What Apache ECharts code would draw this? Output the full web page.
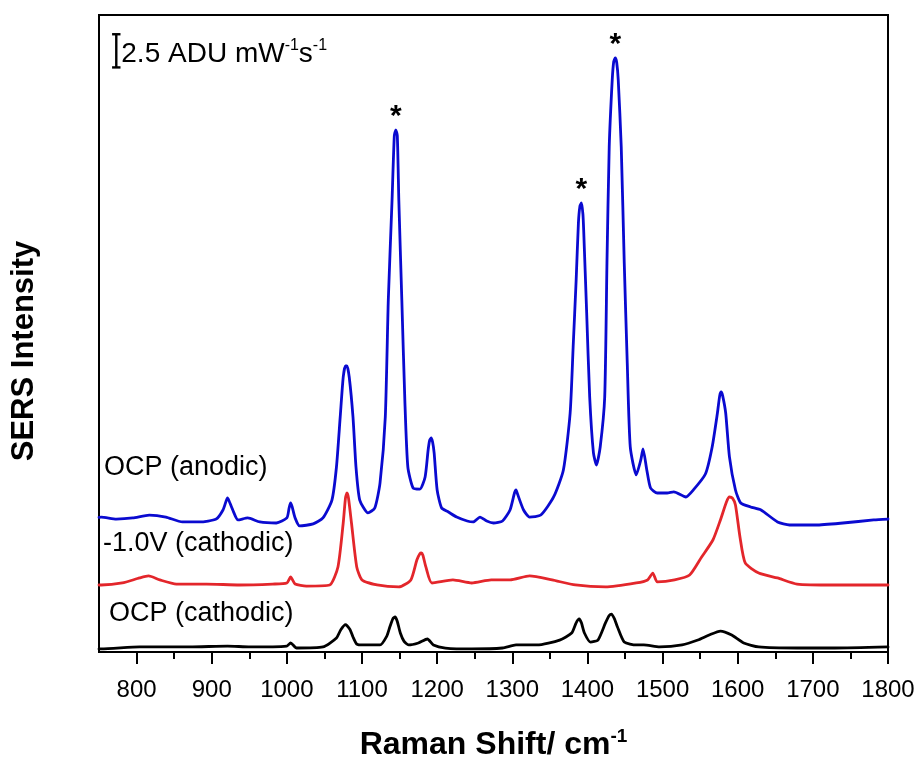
<!DOCTYPE html>
<html>
<head>
<meta charset="utf-8">
<title>SERS spectra</title>
<script src="https://cdn.jsdelivr.net/npm/echarts@6/dist/echarts.min.js"></script>
<style>
  html, body { margin: 0; padding: 0; background: #fff; }
  #chart { width: 921px; height: 757px; }
</style>
</head>
<body>
<div id="chart"></div>
<script>
// Three offset SERS spectra; intensity in ADU mW^-1 s^-1 (traces stacked with offsets).
const FONT = 'Arial, "Liberation Sans", Helvetica, sans-serif';

const seriesNames = ['OCP (anodic)', '-1.0V (cathodic)', 'OCP (cathodic)'];
const seriesColors = ['#0a0ad0', '#e3262b', '#000000'];

// OCP (anodic) trace
const anodicShift = [
  750, 753, 773, 795, 817, 839, 861, 884, 906, 915, 919, 921, 923, 928, 935, 948, 964, 986,
  1000, 1003, 1005, 1007, 1011, 1017, 1035, 1048, 1060, 1066, 1071, 1075, 1078, 1080, 1083,
  1088, 1092, 1097, 1108, 1117, 1124, 1131, 1135, 1140, 1143, 1145, 1147, 1149, 1153, 1157,
  1161, 1168, 1177, 1184, 1188, 1190, 1192, 1194, 1196, 1200, 1206, 1215, 1226, 1240, 1248,
  1257, 1266, 1275, 1287, 1297, 1303, 1305, 1307, 1315, 1323, 1338, 1355, 1368, 1377, 1381,
  1385, 1388, 1390, 1392, 1394, 1395, 1399, 1403, 1408, 1412, 1417, 1423, 1426, 1429, 1433,
  1435, 1437, 1439, 1441, 1445, 1449, 1453, 1457, 1465, 1471, 1474, 1479, 1484, 1493, 1506,
  1515, 1531, 1541, 1557, 1566, 1573, 1576, 1578, 1580, 1584, 1589, 1597, 1604, 1617, 1631,
  1653, 1669, 1704, 1740, 1781, 1800
];
const anodicIntensity = [
  10.15, 10.17, 10.02, 10.10, 10.32, 10.17, 9.80, 9.80, 10.02, 10.70, 11.35, 11.61, 11.40, 10.70, 9.95, 10.10, 9.80, 9.72,
  10.10, 10.85, 11.23, 10.95, 10.10, 9.50, 9.65, 10.10, 11.45, 13.94, 17.71, 20.72, 21.55, 21.55, 20.72,
  17.71, 13.94, 11.45, 10.48, 10.85, 12.74, 17.71, 26.53, 34.06, 38.90, 39.34, 38.90, 34.06, 26.53, 18.99,
  13.94, 12.36, 12.28, 13.19, 15.22, 15.95, 16.13, 15.80, 15.00, 12.21, 10.85, 10.55, 10.17, 9.87, 9.80,
  10.17, 9.87, 9.72, 9.87, 10.70, 12.00, 12.21, 11.90, 10.70, 10.17, 10.32, 11.68, 13.72, 18.01, 22.98,
  28.03, 32.33, 33.60, 33.84, 33.00, 31.80, 25.55, 19.22, 15.00, 14.09, 15.45, 19.22, 29.32, 38.06, 43.11,
  44.50, 44.76, 44.40, 43.11, 38.06, 29.32, 21.78, 15.45, 13.34, 14.47, 15.30, 13.72, 12.36, 11.98, 11.98,
  12.06, 11.68, 12.21, 13.41, 15.45, 18.01, 19.30, 19.59, 19.30, 18.01, 14.70, 12.21, 11.23, 10.93, 10.70,
  9.80, 9.57, 9.57, 9.72, 9.95, 10.02
];

// -1.0V (cathodic) trace
const cathodicShift = [
  750, 753, 781, 804, 816, 831, 853, 893, 937, 981, 1000, 1005, 1011, 1026, 1057, 1068, 1075,
  1078, 1080, 1082, 1086, 1093, 1100, 1120, 1149, 1165, 1173, 1177, 1179, 1181, 1185, 1193,
  1221, 1246, 1272, 1297, 1323, 1353, 1384, 1424, 1465, 1480, 1487, 1493, 1516, 1536, 1552,
  1567, 1577, 1585, 1589, 1593, 1597, 1603, 1610, 1628, 1653, 1679, 1729, 1800
];
const cathodicIntensity = [
  5.05, 5.05, 5.20, 5.58, 5.73, 5.43, 5.12, 5.12, 5.05, 5.12, 5.20, 5.65, 5.12, 4.97, 5.05, 6.41, 9.72,
  11.60, 11.98, 11.60, 9.72, 6.41, 5.43, 5.05, 4.90, 5.43, 6.93, 7.40, 7.46, 7.30, 6.41, 5.20,
  5.43, 5.20, 5.43, 5.43, 5.73, 5.43, 5.05, 4.90, 5.20, 5.43, 5.95, 5.28, 5.43, 5.80, 7.16,
  8.44, 9.95, 11.30, 11.68, 11.60, 11.08, 8.67, 6.71, 5.95, 5.58, 5.12, 5.05, 5.05
];

// OCP (cathodic) trace
const ocpCathodicShift = [
  750, 753, 804, 871, 921, 951, 1000, 1005, 1013, 1048, 1066, 1072, 1078, 1084, 1088, 1093,
  1102, 1124, 1133, 1137, 1141, 1144, 1147, 1151, 1156, 1162, 1175, 1187, 1195, 1211, 1246,
  1287, 1305, 1333, 1363, 1379, 1385, 1389, 1392, 1396, 1404, 1414, 1424, 1429, 1432, 1436,
  1440, 1449, 1465, 1475, 1496, 1526, 1547, 1562, 1577, 1592, 1608, 1628, 1679, 1729, 1800
];
const ocpCathodicIntensity = [
  0.23, 0.23, 0.38, 0.38, 0.45, 0.38, 0.45, 0.68, 0.30, 0.38, 1.06, 1.70, 2.07, 1.70, 1.13, 0.60,
  0.53, 0.53, 1.20, 1.88, 2.50, 2.64, 2.30, 1.43, 0.80, 0.53, 0.68, 0.98, 0.53, 0.30, 0.23,
  0.30, 0.53, 0.53, 0.90, 1.43, 2.20, 2.49, 2.20, 1.43, 0.75, 0.90, 2.19, 2.75, 2.86, 2.50,
  1.88, 0.75, 0.53, 0.53, 0.38, 0.53, 0.90, 1.28, 1.58, 1.28, 0.68, 0.38, 0.30, 0.30, 0.38
];

// Axis ticks (cm^-1)
const majorTicks = [800, 900, 1000, 1100, 1200, 1300, 1400, 1500, 1600, 1700, 1800];
const minorTicks = [850, 950, 1050, 1150, 1250, 1350, 1450, 1550, 1650, 1750];

// Bands marked with an asterisk on the anodic trace
const starredPeaks = [1145, 1392, 1437];

// Intensity scale bar: 2.5 ADU mW^-1 s^-1
const scaleBarShift = 773;
const scaleBarBase = 44.05;
const scaleBarSize = 2.5;

const toPairs = (xs, ys) => xs.map((x, i) => [x, ys[i]]);

const chart = echarts.init(document.getElementById('chart'), null, { renderer: 'canvas' });

function traceSeries(idx, xs, ys, extra) {
  return Object.assign({
    name: seriesNames[idx],
    type: 'line',
    data: toPairs(xs, ys),
    showSymbol: false,
    symbol: 'none',
    smooth: 0.2,
    lineStyle: { color: seriesColors[idx], width: 2.8, cap: 'round', join: 'round' },
    itemStyle: { color: seriesColors[idx] },
    z: 3 + idx
  }, extra || {});
}

const option = {
  animation: false,
  backgroundColor: '#ffffff',
  grid: {
    left: 99, right: 33, top: 15, bottom: 105,
    outerBoundsMode: 'none',
    containLabel: false,
    show: true, borderColor: '#000', borderWidth: 2, backgroundColor: 'transparent'
  },
  xAxis: [
    {
      type: 'value', min: 750, max: 1800, position: 'bottom',
      axisLine: { show: true, onZero: false, lineStyle: { color: '#000', width: 2 } },
      axisTick: { show: true, customValues: majorTicks, length: 12, lineStyle: { color: '#000', width: 2 } },
      axisLabel: {
        show: true, customValues: majorTicks, margin: 26, color: '#000', fontSize: 24, fontFamily: FONT,
        formatter: v => String(v)
      },
      splitLine: { show: false },
      name: '{t|Raman Shift/ cm}{s|-1}',
      nameLocation: 'middle',
      nameGap: 75,
      nameTextStyle: {
        rich: {
          t: { fontSize: 32, fontWeight: 'bold', fontFamily: FONT, color: '#000', lineHeight: 34, verticalAlign: 'bottom' },
          s: { fontSize: 19, fontWeight: 'bold', fontFamily: FONT, color: '#000', lineHeight: 19, verticalAlign: 'top' }
        }
      }
    },
    {
      type: 'value', min: 750, max: 1800, position: 'bottom',
      axisLine: { show: false },
      axisTick: { show: true, customValues: minorTicks, length: 7, lineStyle: { color: '#000', width: 2 } },
      axisLabel: { show: false },
      splitLine: { show: false }
    }
  ],
  yAxis: {
    type: 'value', min: 0, max: 48,
    axisLine: { show: false }, axisTick: { show: false }, axisLabel: { show: false }, splitLine: { show: false }
  },
  graphic: [
    {
      type: 'text', x: 24, y: 351, rotation: Math.PI / 2,
      style: { text: 'SERS Intensity', font: 'bold 31px ' + FONT, fill: '#000', align: 'center', verticalAlign: 'middle' }
    },
    {
      type: 'text', x: 104, y: 468,
      style: { text: seriesNames[0], font: '27px ' + FONT, fill: '#000', align: 'left', verticalAlign: 'middle' }
    },
    {
      type: 'text', x: 103, y: 544,
      style: { text: seriesNames[1], font: '27px ' + FONT, fill: '#000', align: 'left', verticalAlign: 'middle' }
    },
    {
      type: 'text', x: 109, y: 614,
      style: { text: seriesNames[2], font: '27px ' + FONT, fill: '#000', align: 'left', verticalAlign: 'middle' }
    }
  ],
  series: [
    traceSeries(0, anodicShift, anodicIntensity, {
      markPoint: {
        symbol: 'circle', symbolSize: 0, silent: true,
        label: {
          show: true, formatter: '*', position: 'inside', offset: [0, -13],
          color: '#000', fontSize: 30, fontWeight: 'bold', fontFamily: FONT
        },
        data: starredPeaks.map(s => ({ coord: [s, anodicIntensity[anodicShift.indexOf(s)]] }))
      }
    }),
    traceSeries(1, cathodicShift, cathodicIntensity),
    traceSeries(2, ocpCathodicShift, ocpCathodicIntensity),
    {
      type: 'custom',
      name: 'scale bar',
      data: [[scaleBarShift, scaleBarBase, scaleBarBase + scaleBarSize]],
      silent: true,
      z: 10,
      renderItem: function (params, api) {
        const lo = api.coord([api.value(0), api.value(1)]);
        const hi = api.coord([api.value(0), api.value(2)]);
        const cap = 4.2;
        const st = { stroke: '#000', lineWidth: 2.4 };
        const midY = (lo[1] + hi[1]) / 2;
        return {
          type: 'group',
          children: [
            { type: 'line', shape: { x1: hi[0], y1: hi[1], x2: lo[0], y2: lo[1] }, style: st },
            { type: 'line', shape: { x1: hi[0] - cap, y1: hi[1], x2: hi[0] + cap, y2: hi[1] }, style: st },
            { type: 'line', shape: { x1: lo[0] - cap, y1: lo[1], x2: lo[0] + cap, y2: lo[1] }, style: st },
            {
              type: 'text',
              x: hi[0] + 5, y: midY + 2,
              style: {
                text: '{n|' + scaleBarSize + ' ADU mW}{s|-1}{n|s}{s|-1}',
                align: 'left', verticalAlign: 'middle',
                rich: {
                  n: { fontSize: 28, fontFamily: FONT, fill: '#000', lineHeight: 30, verticalAlign: 'bottom' },
                  s: { fontSize: 16, fontFamily: FONT, fill: '#000', lineHeight: 16, verticalAlign: 'top' }
                }
              }
            }
          ]
        };
      }
    }
  ]
};

chart.setOption(option);
</script>
</body>
</html>
